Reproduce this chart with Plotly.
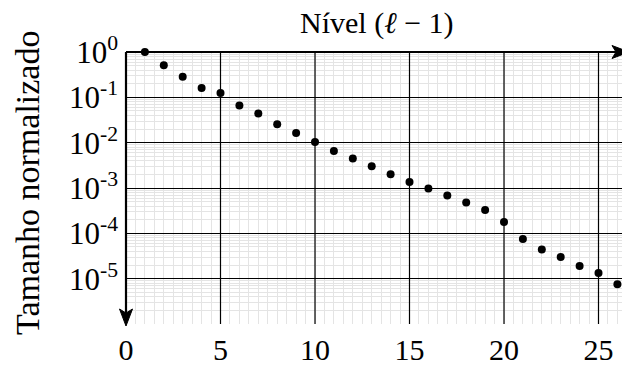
import plotly.graph_objects as go

# ---- data ----
levels = list(range(1, 27))
sizes = [1.0, 0.51, 0.286, 0.161, 0.125, 0.0657, 0.0438, 0.0254, 0.0163, 0.01035,
         0.00655, 0.00445, 0.00301, 0.0020, 0.001355, 0.00097, 0.00068, 0.000476,
         0.000327, 0.000178, 7.5e-5, 4.38e-5, 3.0e-5, 1.9e-5, 1.33e-5, 7.5e-6]
x_ticks = [0, 5, 10, 15, 20, 25]
y_tickvals = [1, 1e-1, 1e-2, 1e-3, 1e-4, 1e-5]
y_ticktext = ["10<sup>0</sup>", "10<sup>-1</sup>", "10<sup>-2</sup>",
              "10<sup>-3</sup>", "10<sup>-4</sup>", "10<sup>-5</sup>"]
x_title = "Nível (<i>ℓ</i> − 1)"
y_title = "Tamanho normalizado"

FONT = "Liberation Serif, DejaVu Serif, serif"
W, H = 630, 370
OFF = 8  # page body margin
PW, PH = 500, 272
ML, MT = 126 - OFF, 52 - OFF
MR, MB = W - ML - PW, H - MT - PH
PX_PER_UNIT = 18.9
xmax = PW / PX_PER_UNIT


def px(x):
    return (x - OFF - ML) / PW


def py(y):
    return 1 - (y - OFF - MT) / PH


fig = go.Figure()
fig.add_trace(go.Scatter(
    x=levels, y=sizes, mode="markers",
    marker=dict(color="black", size=8),
    cliponaxis=False, showlegend=False,
))

# major vertical grid lines
for xv in x_ticks[1:]:
    fig.add_shape(type="line", xref="x", yref="paper", x0=xv, x1=xv, y0=0, y1=1,
                  line=dict(color="black", width=1.2), layer="above")

# axis lines with arrow heads
fig.add_shape(type="line", xref="paper", yref="paper", x0=0, x1=px(620), y0=1, y1=1,
              line=dict(color="black", width=2.2), layer="above")
fig.add_shape(type="line", xref="paper", yref="paper", x0=0, x1=0, y0=1, y1=py(318),
              line=dict(color="black", width=2.2), layer="above")
tip_x, tip_y = 629, 52
fig.add_shape(type="path", xref="paper", yref="paper", layer="above",
              path=(f"M{px(tip_x)},{py(tip_y)} L{px(tip_x-17)},{py(tip_y-6.5)} "
                    f"L{px(tip_x-13)},{py(tip_y)} L{px(tip_x-17)},{py(tip_y+6.5)} Z"),
              fillcolor="black", line=dict(color="black", width=1))
tx, ty = 126, 326
fig.add_shape(type="path", xref="paper", yref="paper", layer="above",
              path=(f"M{px(tx)},{py(ty)} L{px(tx-6.5)},{py(ty-17)} "
                    f"L{px(tx)},{py(ty-13)} L{px(tx+6.5)},{py(ty-17)} Z"),
              fillcolor="black", line=dict(color="black", width=1))

fig.update_xaxes(
    range=[0, xmax], tickvals=x_ticks, ticks="", showgrid=False, zeroline=False,
    showline=False, ticklabelstandoff=5, automargin=False,
    tickfont=dict(family=FONT, size=30, color="black"),
    minor=dict(dtick=0.5, tick0=0, showgrid=True, gridcolor="#e4e4e4", gridwidth=1),
)
fig.update_yaxes(
    type="log", range=[-6, 0], tickvals=y_tickvals, ticktext=y_ticktext,
    ticks="", showgrid=True, gridcolor="black", gridwidth=1.2, zeroline=False,
    showline=False, ticklabelstandoff=7, automargin=False,
    tickfont=dict(family=FONT, size=31, color="black"),
    minor=dict(dtick="D1", showgrid=True, gridcolor="#e4e4e4", gridwidth=1),
)

# titles
fig.add_annotation(xref="paper", yref="paper", x=px(377), y=py(23),
                   showarrow=False, text=x_title, xanchor="center", yanchor="middle",
                   font=dict(family=FONT, size=30, color="black"))
fig.add_annotation(xref="paper", yref="paper", x=px(27), y=py(183),
                   showarrow=False, text=y_title, textangle=-90,
                   xanchor="center", yanchor="middle",
                   font=dict(family=FONT, size=34, color="black"))

fig.update_layout(
    width=W, height=H, margin=dict(l=ML, r=MR, t=MT, b=MB),
    paper_bgcolor="white", plot_bgcolor="white",
)

fig.write_html("out.html")
